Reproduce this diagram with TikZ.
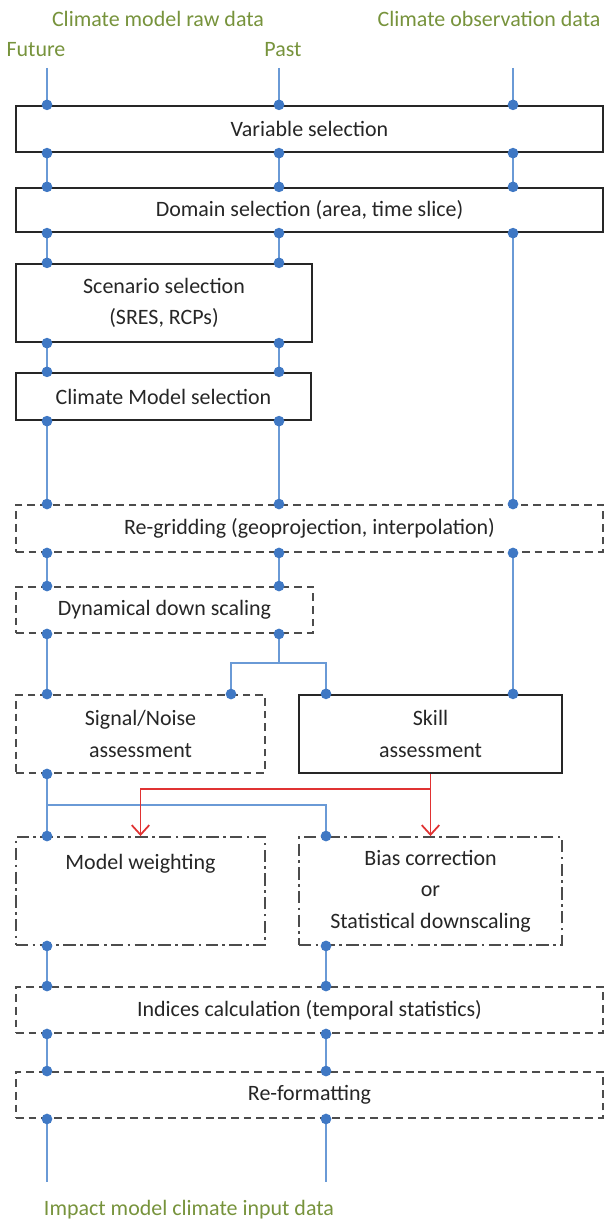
\documentclass[tikz,border=0pt]{standalone}
\usepackage{fontspec}
\setmainfont{Carlito}
\usepackage{tikz}
\usetikzlibrary{positioning, arrows.meta}
\definecolor{headgreen}{HTML}{77933C}
\definecolor{linkblue}{HTML}{6A9AD6}
\definecolor{dotblue}{HTML}{3F78C4}
\definecolor{feedred}{HTML}{E03232}
\definecolor{boxtext}{HTML}{262626}

\tikzset{
  every node/.style={font=\fontsize{12.5}{18}\selectfont, text=boxtext},
  stepbox/.style={rectangle, draw=black!85, line width=1.3pt, inner sep=0pt, align=center},
  dashbox/.style={stepbox, draw=black!70, line width=1.1pt, dash pattern=on 4.4pt off 2.8pt},
  dotbox/.style={stepbox, draw=black!70, line width=1.1pt, dash pattern=on 7pt off 2.5pt on 1.5pt off 2.5pt},
  heading/.style={text=headgreen},
  link/.style={draw=linkblue, line width=1pt},
  dots/.style={link, {Circle[length=6pt, color=dotblue]}-{Circle[length=6pt, color=dotblue]}, shorten <=-3pt, shorten >=-3pt},
  enddot/.style={link, -{Circle[length=6pt, color=dotblue]}, shorten >=-3pt},
  startdot/.style={link, {Circle[length=6pt, color=dotblue]}-, shorten <=-3pt},
  feedback/.style={draw=feedred, line width=1pt, -{Straight Barb[length=5.5pt, width=10pt]}}
}

\begin{document}
\begin{tikzpicture}[x=0.02cm, y=-0.02cm]
\useasboundingbox (0,0) rectangle (605,1222);

% data sources
\node[heading] (raw) at (158,19) {Climate model raw data};
\node[heading] (obshead) at (489,19) {Climate observation data};
\node[heading] (futhead) at (36,50) {Future};
\node[heading] (pasthead) at (283,50) {Past};
\coordinate (fut) at (47,68);
\coordinate (pst) at (279,68);
\coordinate (obs) at (513,68);
\coordinate (col2) at (326,0);
\coordinate (snb) at (231,0);

% selection steps
\node[stepbox, minimum width=11.74cm, minimum height=0.92cm] (var) at (309.5,129) {Variable selection};
\node[stepbox, minimum width=11.74cm, minimum height=0.88cm] (dom) at (309.5,210) {Domain selection (area, time slice)};
\node[stepbox, minimum width=5.92cm, minimum height=1.56cm] (scen) at (164,303) {Scenario selection\\(SRES, RCPs)};
\node[stepbox, minimum width=5.9cm, minimum height=0.94cm] (cms) at (163.5,396.5) {Climate Model selection};

% processing steps
\node[dashbox, minimum width=11.74cm, minimum height=0.94cm] (regrid) at (309.5,528.5) {Re-gridding (geoprojection, interpolation)};
\node[dashbox, minimum width=5.94cm, minimum height=0.92cm] (dyn) at (164.5,610) {Dynamical down scaling};
\node[dashbox, minimum width=4.98cm, minimum height=1.56cm] (sn) at (140.5,734) {Signal/Noise\\assessment};
\node[stepbox, minimum width=5.26cm, minimum height=1.56cm] (skill) at (430.5,734) {Skill\\assessment};
\node[dotbox, minimum width=4.98cm, minimum height=2.16cm,
  label={[anchor=north, yshift=-0.24cm]north:Model weighting}] (mw) at (140.5,891) {};
\node[dotbox, minimum width=5.26cm, minimum height=2.16cm] (bias) at (430.5,891) {Bias correction\\or\\Statistical downscaling};
\node[dashbox, minimum width=11.74cm, minimum height=0.92cm] (idx) at (309.5,1010) {Indices calculation (temporal statistics)};
\node[dashbox, minimum width=11.74cm, minimum height=0.92cm] (refmt) at (309.5,1095) {Re-formatting};

% blue data flow
\foreach \c in {fut,pst,obs} {
  \draw[enddot] (\c) -- (var.north -| \c);
  \draw[dots] (var.south -| \c) -- (dom.north -| \c);
}
\foreach \c in {fut,pst} {
  \draw[dots] (dom.south -| \c) -- (scen.north -| \c);
  \draw[dots] (scen.south -| \c) -- (cms.north -| \c);
  \draw[dots] (cms.south -| \c) -- (regrid.north -| \c);
  \draw[dots] (regrid.south -| \c) -- (dyn.north -| \c);
}
\draw[dots] (dom.south -| obs) -- (regrid.north -| obs);
\draw[dots] (regrid.south -| obs) -- (skill.north -| obs);
\draw[dots] (dyn.south -| fut) -- (sn.north -| fut);
\coordinate (split) at (279,663);
\draw[startdot] (dyn.south -| pst) -- (split);
\draw[enddot] (split) -| (sn.north -| snb);
\draw[enddot] (split) -| (skill.north -| col2);
\draw[dots] (sn.south -| fut) -- (mw.north -| fut);
\coordinate (fork) at (47,805);
\draw[enddot] (fork) -| (bias.north -| col2);
\draw[dots] (mw.south -| fut) -- (idx.north -| fut);
\draw[dots] (bias.south -| col2) -- (idx.north -| col2);
\foreach \c in {fut,col2}
  \draw[dots] (idx.south -| \c) -- (refmt.north -| \c);
\coordinate (outf) at (47,1182);
\coordinate (outp) at (326,1182);
\draw[startdot] (refmt.south -| fut) -- (outf);
\draw[startdot] (refmt.south -| col2) -- (outp);

% red skill feedback
\coordinate (rfork) at (430.5,789);
\draw[feedback] (skill.south) -- (bias.north);
\draw[feedback] (rfork) -| (mw.north);

\node[heading] (impact) at (189,1210) {Impact model climate input data};
\end{tikzpicture}
\end{document}
